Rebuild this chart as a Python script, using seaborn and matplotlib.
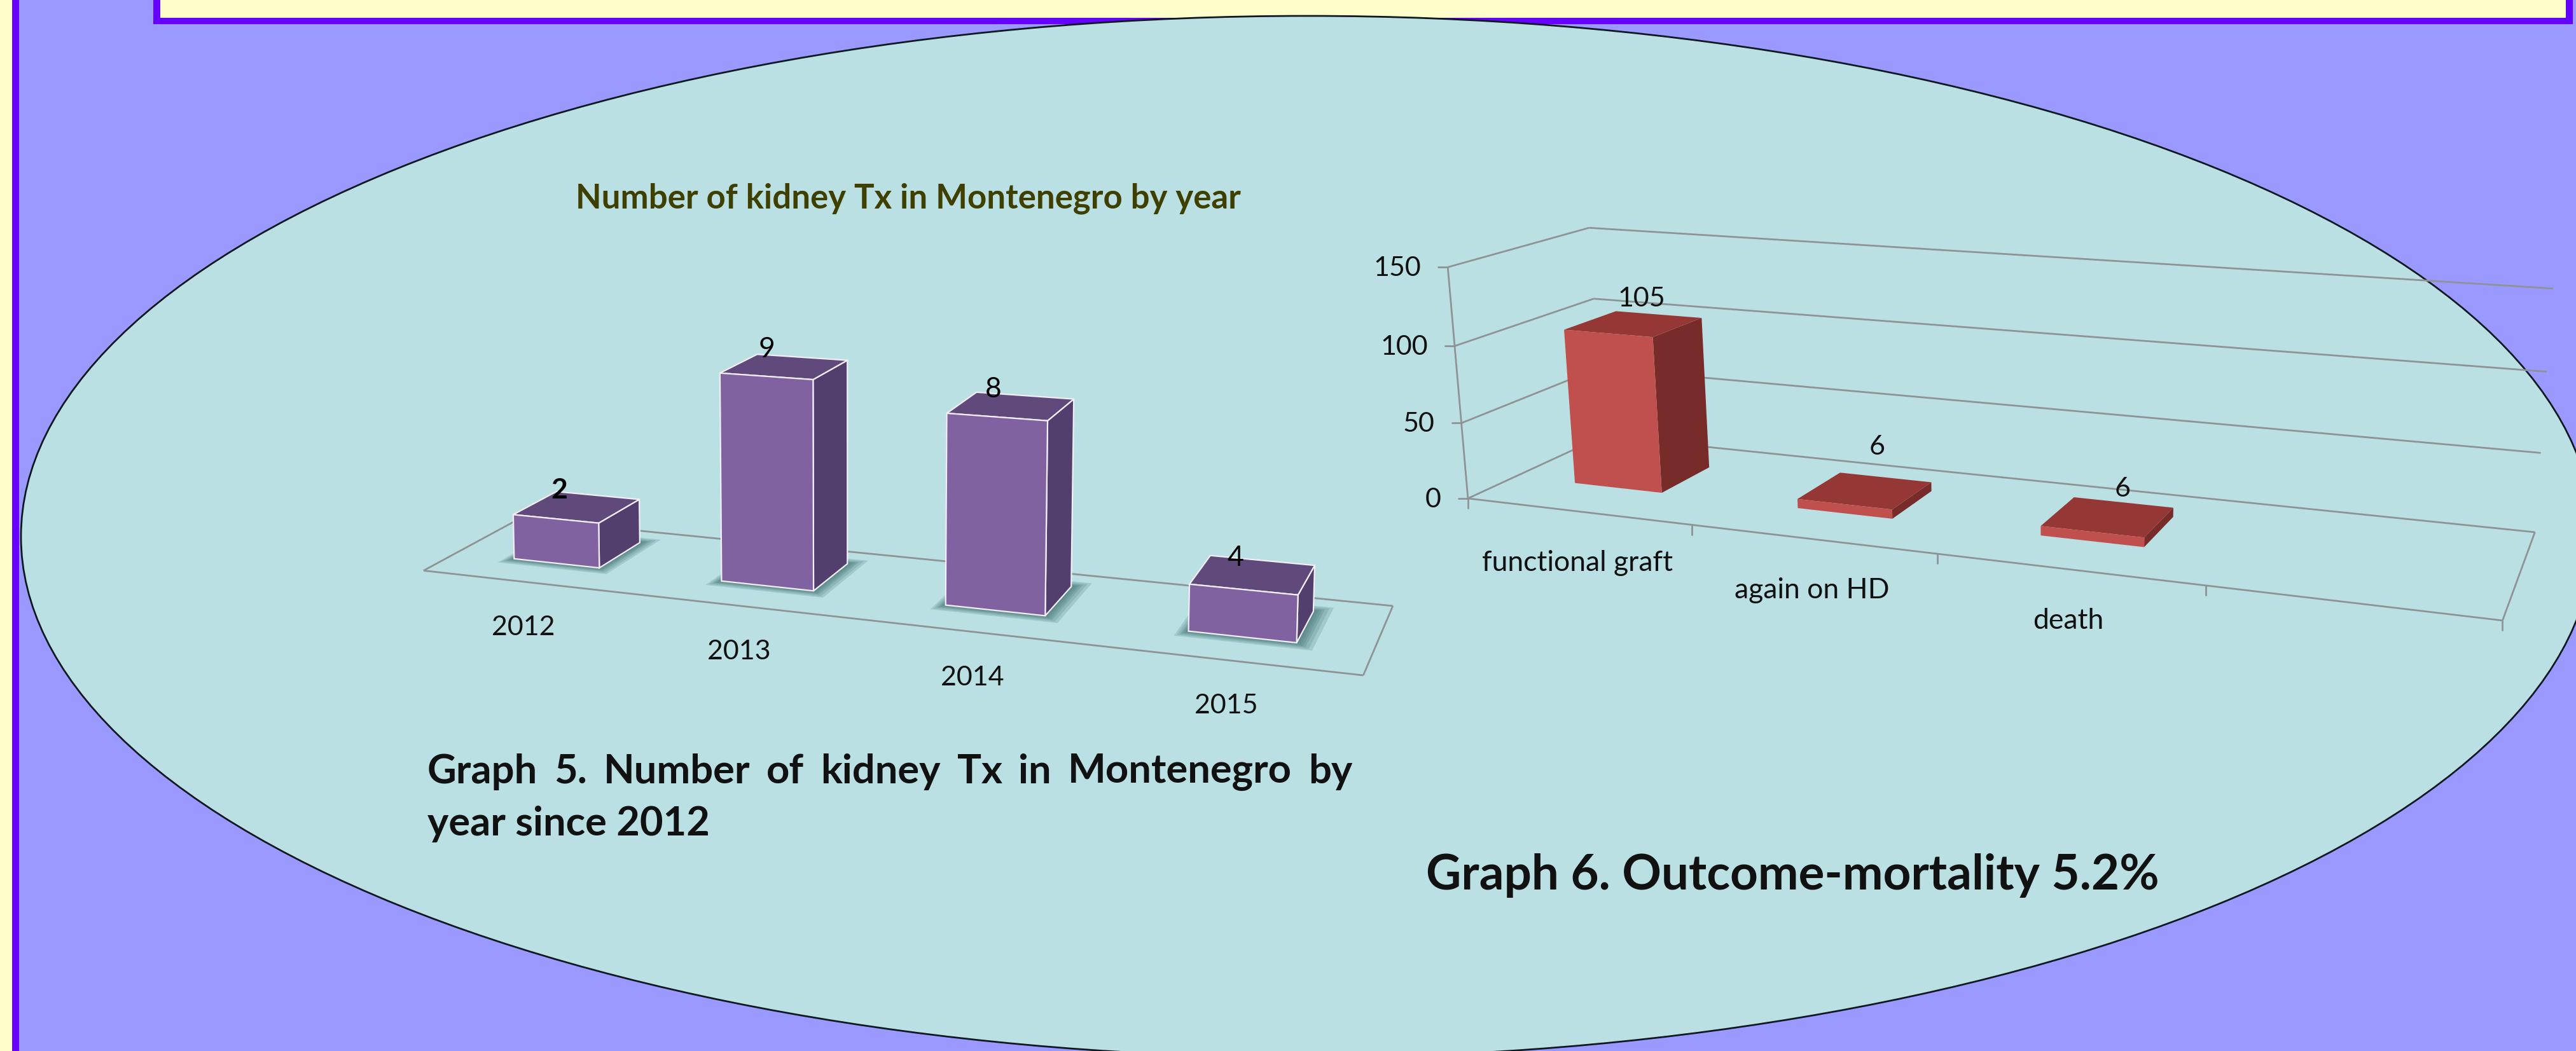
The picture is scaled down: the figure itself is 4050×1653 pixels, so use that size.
import numpy as np
import seaborn as sns
from matplotlib import pyplot as plt
from matplotlib.patches import Ellipse, Rectangle
from matplotlib.transforms import Affine2D, Transform

sns.set_style("white")
plt.rcParams['font.family'] = ['Lato', 'DejaVu Sans']

# left chart
years = ["2012", "2013", "2014", "2015"]
tx_labels = [2, 9, 8, 4]
# heights as drawn in the picture, the 2015 bar is drawn lower than its label says
tx_heights = [2, 9, 8, 1.9]

# right chart
outcomes = ["functional graft", "again on HD", "death", " "]
outcome_labels = [105, 6, 6, None]
outcome_heights = [103, 6, 6, 0]
outcome_ticks = [0, 50, 100, 150]

# (x, value, depth) -> picture pixel, used to fit the two fake 3D views
cal5_world = [(-.5, 0, 0), (3.5, 0, 0), (3.5, 0, 1), (-.5, 0, 1),
              (-.21, 0, .33), (.21, 0, .33), (.79, 0, .33), (1.21, 0, .33),
              (1.79, 0, .33), (2.21, 0, .33), (2.79, 0, .33), (3.21, 0, .33),
              (.21, 0, .8), (1.21, 0, .8), (2.21, 0, .8), (3.21, 0, .8),
              (-.21, 2, .33), (.21, 2, .33), (.79, 9, .33), (1.21, 9, .33),
              (1.79, 8, .33), (2.21, 8, .33),
              (-.21, 2, .8), (.21, 2, .8), (.79, 9, .8), (1.21, 9, .8),
              (1.79, 8, .8), (2.21, 8, .8)]
cal5_image = [(661, 895), (2142, 1070), (2194, 944), (810, 823),
              (814, 877), (940, 890), (1137, 914), (1277, 928),
              (1490, 952), (1642, 969), (1871, 995), (2036, 1013),
              (1008, 854), (1331, 885), (1684, 920), (2061, 961),
              (814, 808), (940, 823), (1131, 583), (1271, 596),
              (1494, 649), (1647, 662),
              (876, 774), (1005, 787), (1195, 558), (1328, 567),
              (1539, 619), (1686, 630)]
cal6_world = [(-.5, 0, 0), (3.5, 0, 0), (3.5, 0, 1), (-.5, 0, 1),
              (-.5, 150, 0), (-.5, 150, 1), (3.5, 150, 1),
              (-.5, 100, 0), (-.5, 100, 1), (3.5, 100, 1),
              (-.5, 50, 0), (-.5, 50, 1), (3.5, 50, 1),
              (.5, 0, 0), (1.5, 0, 0), (2.5, 0, 0)]
cal6_image = [(2305, 785), (3934, 977), (3984, 837), (2524, 686),
              (2280, 421), (2495, 359), (4015, 454),
              (2288, 544), (2504, 468), (4003, 584),
              (2296, 664), (2514, 580), (3996, 713),
              (2660, 826), (3045, 871), (3470, 919)]

PURPLE = ("#8062A0", "#604A7B", "#533F6E")
RED = ("#C0504D", "#953735", "#772C2A")
GRID = "#8E9394"
SEA = "#BAE0E3"


def fit_camera(world, image):
    rows, rhs = [], []
    for (x, y, z), (u, v) in zip(world, image):
        rows.append([x, y, z, 1, 0, 0, 0, 0, -u * x, -u * y, -u * z])
        rows.append([0, 0, 0, 0, x, y, z, 1, -v * x, -v * y, -v * z])
        rhs += [u, v]
    p = np.linalg.lstsq(np.array(rows, float), np.array(rhs, float), rcond=None)[0]
    return np.append(p, 1).reshape(3, 4)


def project(cam, x, y, z):
    h = cam @ np.array([x, y, z, 1.0])
    return h[0] / h[2], h[1] / h[2]


class CameraTransform(Transform):
    input_dims = 2
    output_dims = 2

    def __init__(self, cam, z):
        super().__init__()
        self.cam = cam
        self.z = z

    def transform_non_affine(self, values):
        values = np.asarray(values, float)
        pts = np.column_stack([values, np.full(len(values), self.z), np.ones(len(values))])
        h = pts @ self.cam.T
        return h[:, :2] / h[:, 2:3]


def poly(ax, cam, corners, **kw):
    pts = [project(cam, *c) for c in corners]
    ax.fill([p[0] for p in pts], [p[1] for p in pts], **kw)


def seg(ax, cam, a, b, lw=2.0):
    pa, pb = project(cam, *a), project(cam, *b)
    ax.plot([pa[0], pb[0]], [pa[1], pb[1]], color=GRID, lw=lw, zorder=2, solid_capstyle="butt")


def full_axes(fig):
    return fig.add_axes([0, 0, 1, 1], facecolor="none")


def pixel_limits(ax):
    ax.set_xlim(0, 4050)
    ax.set_ylim(1653, 0)
    ax.axis("off")


def draw_bars(ax, cam, cats, heights, colors, width, z0, z1, shift=0, edge=None, shadow=False):
    sns.barplot(x=cats, y=heights, color=colors[0], saturation=1, width=width, errorbar=None,
                ax=ax, edgecolor=edge if edge else "none", linewidth=1.6 if edge else 0)
    pixel_limits(ax)
    tops = []
    for bar in ax.patches:
        x0, x1, h = bar.get_x() + shift, bar.get_x() + bar.get_width() + shift, bar.get_height()
        if h <= 0:
            bar.set_visible(False)
            tops.append(None)
            continue
        if shadow:
            for d in (.07, .055, .04, .03, .02, .01):
                d2 = d * 1.2
                poly(ax, cam, [(x0 - d * .6, 0, z0 - d2), (x1 + d, 0, z0 - d2), (x1 + d, 0, z1 + d2), (x0 - d * .6, 0, z1 + d2)],
                     color="#3f6f70", alpha=.2, lw=0, zorder=3)
        bar.set_transform(Affine2D().translate(shift, 0) + CameraTransform(cam, z0) + ax.transData)
        bar.set_zorder(6)
        style = dict(lw=1.6 if edge else 0, ec=edge if edge else "none", zorder=5)
        poly(ax, cam, [(x1, 0, z0), (x1, h, z0), (x1, h, z1), (x1, 0, z1)], fc=colors[2], **style)
        poly(ax, cam, [(x0, h, z0), (x1, h, z0), (x1, h, z1), (x0, h, z1)], fc=colors[1], **style)
        pts = [project(cam, x, h, z) for x in (x0, x1) for z in (z0, z1)]
        tops.append((np.mean([p[0] for p in pts]), np.mean([p[1] for p in pts])))
    return tops


def justified(ax, words, left, right, y, **kw):
    renderer = ax.figure.canvas.get_renderer()
    items = [ax.text(0, y, w, ha="left", va="center", **kw) for w in words]
    widths = [t.get_window_extent(renderer).width for t in items]
    gap = (right - left - sum(widths)) / (len(words) - 1)
    x = left
    for t, w in zip(items, widths):
        t.set_x(x)
        x += w + gap


fig = plt.figure(figsize=(40.5, 16.53), dpi=100)
bg = full_axes(fig)
pixel_limits(bg)
bg.add_patch(Rectangle((0, 0), 4050, 1653, fc="#9999FF", ec="none"))
bg.add_patch(Rectangle((0, 0), 19, 1653, fc="#FFFFCC", ec="none"))
bg.add_patch(Rectangle((19, 0), 11, 1653, fc="#6600FF", ec="none"))
bg.add_patch(Rectangle((241, 0), 3804, 38, fc="#6600FF", ec="none"))
bg.add_patch(Rectangle((252, 0), 3782, 28, fc="#FFFFCC", ec="none"))
bg.add_patch(Ellipse((2055, 844), 4044, 1638, fc=SEA, ec="#101820", lw=2))

# Graph 5
cam5 = fit_camera(cal5_world, cal5_image)
ax5 = full_axes(fig)
tops5 = draw_bars(ax5, cam5, years, tx_heights, PURPLE, .42, .33, .80, edge="#F2EEF6", shadow=True)
for a, b in [((-.5, 0, 0), (3.5, 0, 0)), ((3.5, 0, 0), (3.5, 0, 1)),
             ((3.5, 0, 1), (-.5, 0, 1)), ((-.5, 0, 1), (-.5, 0, 0))]:
    seg(ax5, cam5, a, b)
for i, (year, top) in enumerate(zip(years, tops5)):
    fx, fy = project(cam5, i, 0, 0)
    ax5.text(fx - 3, fy + 72, year, ha="center", va="center", fontsize=31, color="#111111")
    ax5.text(top[0] - 28, top[1] - 27, str(tx_labels[i]), ha="center", va="center", fontsize=32,
             color="black", fontweight="bold" if i == 0 else "normal", zorder=8)
ax5.text(1428, 312, "Number of kidney Tx in Montenegro by year", ha="center", va="center",
         fontsize=38, fontweight="bold", color="#3F3F00")
justified(ax5, "Graph 5. Number of kidney Tx in Montenegro by".split(), 672, 2126, 1214,
          fontsize=45.5, fontweight="bold", color="#111111")
ax5.text(672, 1296, "year since 2012", ha="left", va="center", fontsize=45.5, fontweight="bold", color="#111111")

# Graph 6
cam6 = fit_camera(cal6_world, cal6_image)
ax6 = full_axes(fig)
tops6 = draw_bars(ax6, cam6, outcomes, outcome_heights, RED, .40, .33, .72, shift=-.02)
for v in outcome_ticks:
    seg(ax6, cam6, (-.5, v, 0), (-.5, v, 1))
    seg(ax6, cam6, (-.5, v, 1), (3.5, v, 1))
    px, py = project(cam6, -.5, v, 0)
    ax6.plot([px - 15, px], [py, py], color=GRID, lw=2, zorder=2)
    ax6.text(px - 42, py + 2, str(v), ha="right", va="center", fontsize=31, color="#111111")
seg(ax6, cam6, (-.5, 0, 0), (-.5, 150, 0))
seg(ax6, cam6, (-.5, 0, 0), (3.5, 0, 0))
seg(ax6, cam6, (3.5, 0, 0), (3.5, 0, 1))
for t in (-.5, .5, 1.5, 2.5, 3.5):
    px, py = project(cam6, t, 0, 0)
    ax6.plot([px, px], [py, py + 15], color=GRID, lw=2, zorder=2)
label_nudge = [(12, -40), (19, -69), (23, -44), (0, 0)]
for i, name in enumerate(outcomes):
    if not name.strip():
        continue
    fx, fy = project(cam6, i, 0, 0)
    ax6.text(fx, fy + 81, name, ha="center", va="center", fontsize=32, color="#111111")
    ax6.text(tops6[i][0] + label_nudge[i][0], tops6[i][1] + label_nudge[i][1], str(outcome_labels[i]),
             ha="center", va="center", fontsize=31, color="#111111", zorder=8)
ax6.text(2242, 1377, "Graph 6. Outcome-mortality 5.2%", ha="left", va="center",
         fontsize=55, fontweight="bold", color="#111111")

fig.savefig("out.png", dpi=100)
